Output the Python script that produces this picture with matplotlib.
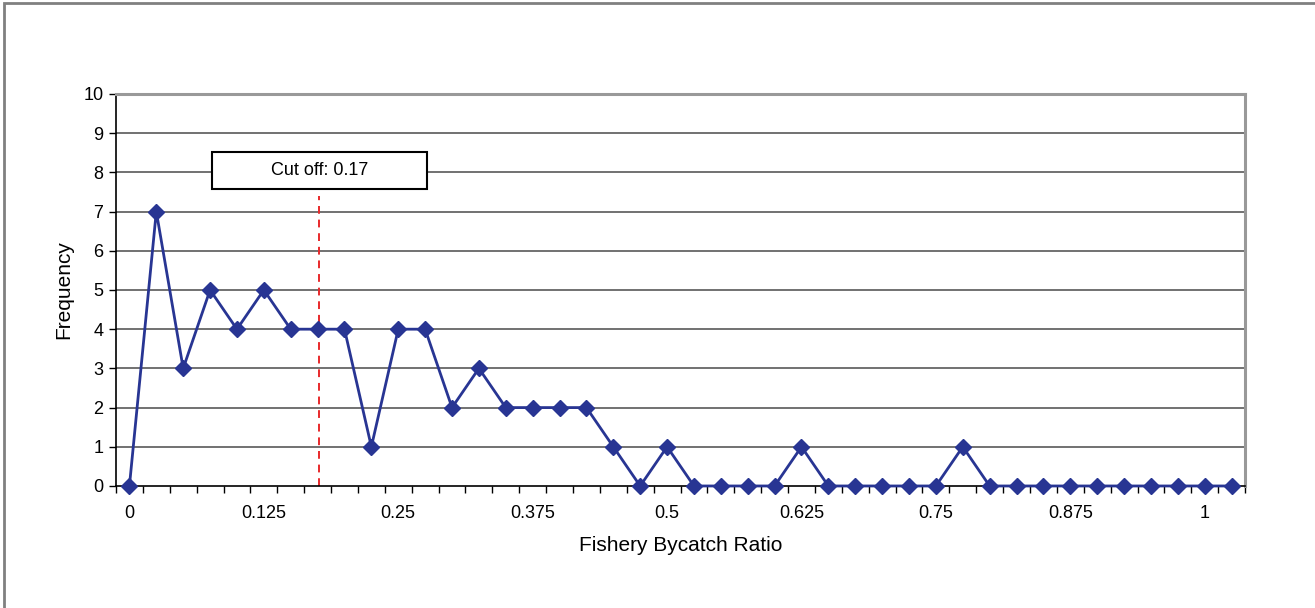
import numpy as np
import matplotlib
matplotlib.use('Agg')
import matplotlib.pyplot as plt
from matplotlib.patches import Rectangle

plt.rcParams['font.family'] = ['Liberation Sans', 'DejaVu Sans']

# bin centres of the bycatch ratio histogram (step 0.025)
ratio = [0, 0.025, 0.05, 0.075, 0.1, 0.125, 0.15, 0.175, 0.2, 0.225,
         0.25, 0.275, 0.3, 0.325, 0.35, 0.375, 0.4, 0.425, 0.45, 0.475,
         0.5, 0.525, 0.55, 0.575, 0.6, 0.625, 0.65, 0.675, 0.7, 0.725,
         0.75, 0.775, 0.8, 0.825, 0.85, 0.875, 0.9, 0.925, 0.95, 0.975,
         1.0, 1.025]
frequency = [0, 7, 3, 5, 4, 5, 4, 4, 4, 1,
             4, 4, 2, 3, 2, 2, 2, 2, 1, 0,
             1, 0, 0, 0, 0, 1, 0, 0, 0, 0,
             0, 1, 0, 0, 0, 0, 0, 0, 0, 0,
             0, 0]
xtick_labels = ['0', '0.125', '0.25', '0.375', '0.5', '0.625', '0.75', '0.875', '1']
cutoff_label = 'Cut off: 0.17'
cutoff_x = 0.176   # where the dashed line sits in the picture

fig = plt.figure(figsize=(13.15, 6.08), dpi=100)
ax = fig.add_axes([0.0882, 0.2007, 0.8586, 0.6447])

# grid lines
for y in range(1, 10):
    ax.axhline(y, color='#4a4a4a', lw=1.1, zorder=1)

ax.plot(ratio, frequency, color='#283593', lw=2, marker='D', markersize=8,
        zorder=3, clip_on=False)

ax.plot([cutoff_x, cutoff_x], [0, 7.4], color='#e8292b', lw=1.4, ls=(0, (4, 3)), zorder=2)
ax.add_patch(Rectangle((0.0765, 7.58), 0.2, 0.94, facecolor='white',
                       edgecolor='black', lw=1.5, zorder=4))
ax.text(0.1765, 8.05, cutoff_label, ha='center', va='center', fontsize=13, zorder=5)

ax.set_xlim(-0.0125, 1.0375)
ax.set_ylim(0, 10)
ax.set_yticks(range(0, 11))
ax.set_xticks([i * 0.125 for i in range(len(xtick_labels))])
ax.set_xticklabels(xtick_labels)
ax.set_xticks(np.arange(-0.0125, 1.04, 0.025), minor=True)
ax.tick_params(axis='x', which='major', length=0, pad=14, labelsize=13)
ax.tick_params(axis='x', which='minor', length=5, width=1)
ax.tick_params(axis='y', length=5, width=1, labelsize=13, pad=4)

for s in ['top', 'right']:
    ax.spines[s].set_color('#999999')
    ax.spines[s].set_linewidth(2.2)
for s in ['left', 'bottom']:
    ax.spines[s].set_color('black')
    ax.spines[s].set_linewidth(1.2)

ax.set_xlabel('Fishery Bycatch Ratio', fontsize=15, labelpad=10)
ax.set_ylabel('Frequency', fontsize=15, labelpad=7)

# outer frame of the chart
fig.patches.append(Rectangle((4 / 1315, -0.1), 1.2, 1.1 - 3 / 608, transform=fig.transFigure,
                             facecolor='none', edgecolor='#808080', lw=2))

fig.savefig('out.png', dpi=100)
